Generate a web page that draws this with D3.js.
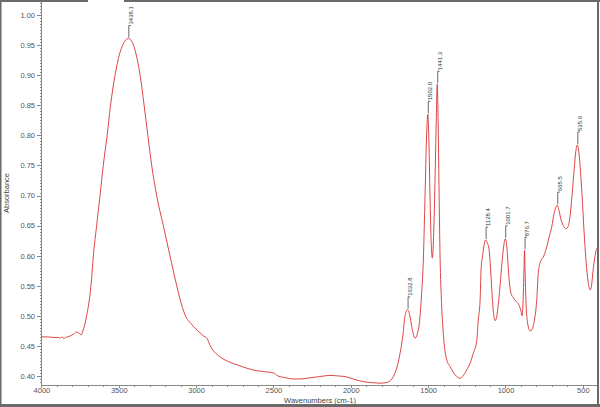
<!DOCTYPE html>
<html>
<head>
<meta charset="utf-8">
<script src="https://cdn.jsdelivr.net/npm/d3@7"></script>
<style>
  body { margin: 0; background: #fff; }
  svg { display: block; }
  .tick text { font-family: "Liberation Sans", Arial, sans-serif; font-size: 7.5px; fill: #555; }
  .axis path, .axis line { stroke: #888; shape-rendering: crispEdges; }
</style>
</head>
<body>
<div class="chart"></div>
<script>
// spectrum: wavenumber (cm-1) and absorbance
const wavenumbers = [4000, 3960, 3920, 3890, 3875, 3865, 3855, 3845, 3830, 3810, 3790, 3775, 3762, 3752, 3744, 3736, 3728, 3718, 3708,
  3697, 3686, 3676, 3664, 3643, 3621, 3600, 3575, 3553, 3524, 3495, 3471, 3438, 3406, 3388, 3362, 3336, 3312, 3287, 3255, 3212,
  3169, 3125, 3104, 3072, 3026, 2975, 2949, 2936, 2928, 2918, 2899, 2870, 2847, 2792, 2718, 2632, 2554, 2500, 2490, 2479, 2420,
  2374, 2328, 2264, 2200, 2134, 2080, 2037, 1973, 1908, 1860, 1811, 1772, 1746, 1725, 1701, 1682, 1662, 1650, 1632.8, 1618, 1606,
  1585, 1563, 1552, 1542, 1531, 1520, 1510, 1502, 1495, 1488, 1480, 1473, 1465, 1456, 1447, 1441.3, 1434, 1429, 1423, 1413, 1402,
  1380, 1359, 1326, 1294, 1275, 1251, 1229, 1208, 1186, 1176, 1164, 1158, 1148, 1138, 1128.4, 1119, 1106, 1097, 1090, 1084, 1074,
  1067, 1058, 1048, 1035, 1022, 1012, 1001.7, 993, 987, 981, 970, 961, 949, 932, 913, 900, 893, 887, 880, 876.7, 874, 867, 858,
  841, 828, 815, 798, 788, 774, 755, 738, 719, 701, 686, 675, 665.5, 657, 641, 622, 609, 596, 583, 570, 557, 547, 535.6, 525, 515,
  505, 492, 479, 466, 453, 444, 434, 421, 408, 400]

const absorbance = [0.465, 0.465, 0.464, 0.464, 0.463, 0.465, 0.462, 0.464, 0.465, 0.467, 0.470, 0.473, 0.472, 0.470, 0.468, 0.472, 0.478, 0.487, 0.500,
  0.515, 0.535, 0.560, 0.600, 0.650, 0.700, 0.750, 0.800, 0.850, 0.900, 0.935, 0.952, 0.961, 0.951, 0.935, 0.900, 0.850, 0.800, 0.750, 0.700, 0.650,
  0.600, 0.550, 0.528, 0.502, 0.485, 0.472, 0.466, 0.464, 0.462, 0.456, 0.446, 0.437, 0.432, 0.424, 0.417, 0.410, 0.407, 0.405, 0.404, 0.401, 0.397,
  0.395, 0.395, 0.397, 0.399, 0.401, 0.400, 0.399, 0.394, 0.390, 0.389, 0.388, 0.389, 0.392, 0.399, 0.415, 0.437, 0.470, 0.499, 0.510, 0.500, 0.482,
  0.463, 0.477, 0.500, 0.537, 0.593, 0.700, 0.800, 0.835, 0.790, 0.700, 0.620, 0.596, 0.630, 0.720, 0.830, 0.885, 0.800, 0.700, 0.600, 0.520, 0.471,
  0.427, 0.416, 0.402, 0.396, 0.400, 0.410, 0.421, 0.438, 0.458, 0.493, 0.526, 0.576, 0.600, 0.618, 0.626, 0.622, 0.610, 0.580, 0.550, 0.525, 0.498,
  0.492, 0.497, 0.515, 0.550, 0.590, 0.615, 0.628, 0.620, 0.600, 0.576, 0.545, 0.535, 0.530, 0.524, 0.518, 0.508, 0.500, 0.520, 0.580, 0.609, 0.580, 0.520, 0.490,
  0.475, 0.477, 0.490, 0.526, 0.571, 0.590, 0.598, 0.610, 0.630, 0.648, 0.670, 0.680, 0.684, 0.678, 0.660, 0.648, 0.645, 0.648, 0.665, 0.700, 0.740, 0.770, 0.784, 0.770, 0.740,
  0.700, 0.640, 0.590, 0.557, 0.543, 0.550, 0.575, 0.600, 0.612, 0.608]

const peakWaves = [3438.1, 1632.8, 1502.0, 1441.3, 1128.4, 1001.7, 876.7, 665.5, 535.6]
const peakHeights = [0.961, 0.510, 0.835, 0.885, 0.626, 0.628, 0.609, 0.684, 0.784]

const xTicks = [4000, 3500, 3000, 2500, 2000, 1500, 1000, 500]
const yTicks = [0.40, 0.45, 0.50, 0.55, 0.60, 0.65, 0.70, 0.75, 0.80, 0.85, 0.90, 0.95, 1.00]

const width = 600, height = 407

const x = d3.scaleLinear()
    .domain([4000, 400])
    .range([41.4, 598.3])

const y = d3.scaleLinear()
    .domain([0.385, 1.025])
    .range([385, 0])

const svg = d3.select('.chart').append("svg")
    .attr("width", width)
    .attr("height", height)

// minor ticks first, majors drawn over them
svg.append("g")
    .attr("class", "axis")
    .attr("transform", "translate(0,385)")
    .call(d3.axisBottom(x).tickValues(d3.range(4000, 399, -100)).tickSize(2).tickFormat(""))
    .call(g => g.select(".domain").remove())

svg.append("g")
    .attr("class", "axis")
    .attr("transform", "translate(41,0)")
    .call(d3.axisLeft(y).tickValues(d3.range(0.39, 1.0251, 0.005)).tickSize(1.5).tickFormat(""))
    .call(g => g.select(".domain").remove())

svg.append("g")
    .attr("class", "axis x")
    .attr("transform", "translate(0,385)")
    .call(d3.axisBottom(x).tickValues(xTicks).tickSize(3).tickSizeOuter(0).tickPadding(-0.8).tickFormat(d3.format("d")))

svg.append("g")
    .attr("class", "axis y")
    .attr("transform", "translate(41,0)")
    .call(d3.axisLeft(y).tickValues(yTicks).tickSize(4).tickSizeOuter(0).tickPadding(2).tickFormat(d3.format(".2f")))

svg.append("text")
    .attr("x", 320)
    .attr("y", 402.5)
    .attr("text-anchor", "middle")
    .style("font-family", "Liberation Sans, Arial, sans-serif")
    .style("font-size", "7.5px")
    .style("fill", "#444")
    .text("Wavenumbers (cm-1)")

svg.append("text")
    .attr("transform", "translate(9,193) rotate(-90)")
    .attr("text-anchor", "middle")
    .style("font-family", "Liberation Sans, Arial, sans-serif")
    .style("font-size", "7.5px")
    .style("fill", "#444")
    .text("Absorbance")

const spectrum = wavenumbers.map((w, i) => ({w: w, a: absorbance[i]}))

const line = d3.line()
    .x(d => x(d.w))
    .y(d => y(d.a))
    .curve(d3.curveMonotoneX)

svg.append("path")
    .datum(spectrum)
    .attr("fill", "none")
    .attr("stroke", "#d83030")
    .attr("stroke-width", 0.9)
    .attr("d", line)

// peak picks with leader lines
const peaks = peakWaves.map((w, i) => ({w: w, a: peakHeights[i]}))

const pick = svg.selectAll(".peak")
    .data(peaks)
  .enter().append("g")
    .attr("class", "peak")
    .attr("transform", d => "translate(" + x(d.w) + "," + y(d.a) + ")")

pick.append("path")
    .attr("d", "M0.5,-1V-13h2")
    .attr("fill", "none")
    .attr("stroke", "#444")
    .attr("stroke-width", 0.8)

pick.append("text")
    .attr("transform", "translate(4.5,-14) rotate(-90)")
    .style("font-family", "Liberation Sans, Arial, sans-serif")
    .style("font-size", "6px")
    .style("fill", "#333")
    .text(d => d.w.toFixed(1))

// window frame round the picture
const frame = "#6a6a6a"
svg.append("rect").attr("x", 0).attr("y", 0).attr("width", 1.5).attr("height", height).attr("fill", frame)
svg.append("rect").attr("x", 0).attr("y", 0).attr("width", 88).attr("height", 2).attr("fill", frame)
svg.append("rect").attr("x", 124).attr("y", 0).attr("width", width - 124).attr("height", 2).attr("fill", frame)
svg.append("rect").attr("x", 597).attr("y", 0).attr("width", 2).attr("height", height).attr("fill", frame)
svg.append("rect").attr("x", 0).attr("y", 404).attr("width", width).attr("height", 3).attr("fill", frame)
</script>
</body>
</html>
